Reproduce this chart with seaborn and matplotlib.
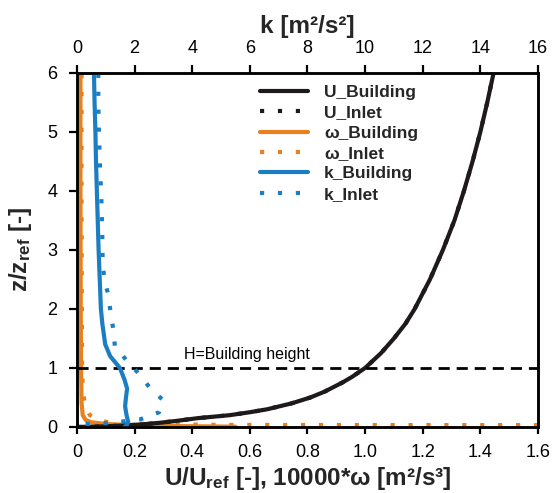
import matplotlib
matplotlib.use("Agg")
import matplotlib.pyplot as plt
import seaborn as sns
import pandas as pd

# ---- data ----
z_U = [0, 0.01, 0.02, 0.03, 0.05, 0.07, 0.1, 0.15, 0.2, 0.25, 0.3, 0.4, 0.5, 0.6, 0.75, 0.85, 1.0,
       1.25, 1.5, 1.75, 2.0, 2.5, 3.0, 3.5, 4.0, 4.5, 5.0, 5.5, 6.0]
U_building = [0, 0.09, 0.14, 0.18, 0.24, 0.285, 0.34, 0.42, 0.53, 0.60, 0.66, 0.745, 0.81, 0.86, 0.92, 0.955, 1.0,
              1.055, 1.10, 1.14, 1.172, 1.225, 1.27, 1.31, 1.343, 1.373, 1.40, 1.424, 1.446]
U_inlet = [0, 0.09, 0.14, 0.18, 0.24, 0.285, 0.34, 0.42, 0.53, 0.60, 0.66, 0.745, 0.81, 0.86, 0.92, 0.955, 1.0,
           1.055, 1.10, 1.14, 1.172, 1.225, 1.27, 1.31, 1.343, 1.373, 1.40, 1.424, 1.446]

z_wb = [0.005, 0.015, 0.03, 0.05, 0.08, 0.12, 0.2, 0.4, 1.0, 2.0, 4.0, 6.0]
w_building = [0.55, 0.35, 0.2, 0.1, 0.05, 0.03, 0.02, 0.016, 0.014, 0.013, 0.012, 0.012]

z_wi = [0.03, 0.035, 0.06, 0.1, 0.2, 0.34, 0.66, 1.0, 2.0, 4.0, 6.0]
w_inlet = [2.0, 0.5, 0.15, 0.08, 0.045, 0.028, 0.02, 0.018, 0.017, 0.016, 0.016]

z_kb = [0.0, 0.03, 0.08, 0.2, 0.35, 0.5, 0.65, 0.8, 1.0, 1.1, 1.2, 1.4, 1.75, 2.0, 2.5, 3.0, 3.5, 4.0, 4.5, 5.0, 5.5, 6.0]
k_building = [1.65, 1.72, 1.78, 1.72, 1.67, 1.70, 1.74, 1.65, 1.49, 1.32, 1.15, 0.98, 0.88, 0.83, 0.79, 0.75, 0.72, 0.69, 0.66, 0.64, 0.61, 0.59]

z_ki = [0.05, 0.07, 0.13, 0.25, 0.45, 0.65, 0.9, 1.12, 1.35, 1.65, 2.0, 2.25, 2.5, 2.8, 3.2, 3.8, 4.4, 5.0, 5.5, 6.0]
k_inlet = [0.3, 1.2, 2.2, 2.85, 3.0, 2.55, 2.15, 1.74, 1.32, 1.26, 1.15, 1.08, 0.95, 0.89, 0.88, 0.85, 0.80, 0.76, 0.74, 0.74]

x_ticks = [0, 0.2, 0.4, 0.6, 0.8, 1.0, 1.2, 1.4, 1.6]
x_ticklabels = ["0", "0.2", "0.4", "0.6", "0.8", "1.0", "1.2", "1.4", "1.6"]
k_ticks = [0, 2, 4, 6, 8, 10, 12, 14, 16]
y_ticks = [0, 1, 2, 3, 4, 5, 6]

# ---- style ----
sns.set_theme(style="white")
plt.rcParams["font.family"] = ["Liberation Sans", "DejaVu Sans"]
plt.rcParams["mathtext.fontset"] = "custom"
plt.rcParams["mathtext.bf"] = "Liberation Sans:bold"
plt.rcParams["mathtext.rm"] = "Liberation Sans"
plt.rcParams["mathtext.default"] = "bf"

BLACK = "#1e1a1a"
ORANGE = "#E8801E"
BLUE = "#1B7DC2"
LW = 3.0
DOT = (0, (1, 3.3))

fig = plt.figure(figsize=(5.55, 4.93), dpi=100)
ax = fig.add_axes([0.1387, 0.1339, 0.8307, 0.7186])
ax2 = ax.twiny()

def line(axis, x, y, color, ls, label, z=2):
    df = pd.DataFrame({"x": x, "y": y})
    sns.lineplot(data=df, x="x", y="y", sort=False, estimator=None, ax=axis,
                 color=color, linewidth=LW, linestyle=ls, label=label,
                 legend=False, zorder=z)
    ln = axis.get_lines()[-1]
    if ls != "-":
        ln.set_dash_capstyle("butt")
    return ln

h = []
h.append(line(ax, U_building, z_U, BLACK, "-", "U_Building", 3))
h.append(line(ax, U_inlet, z_U, BLACK, DOT, "U_Inlet", 3))
h.append(line(ax, w_building, z_wb, ORANGE, "-", "ω_Building", 2))
h.append(line(ax, w_inlet, z_wi, ORANGE, DOT, "ω_Inlet", 2))
h.append(line(ax2, k_building, z_kb, BLUE, "-", "k_Building", 2))
h.append(line(ax2, k_inlet, z_ki, BLUE, DOT, "k_Inlet", 2))

ax.axhline(1.0, color="black", lw=2.0, ls=(0, (4, 2.5)), zorder=4)
ax.text(0.59, 1.1, "H=Building height", ha="center", va="bottom", fontsize=11.5, color="black")

ax.set_xlim(0, 1.6)
ax.set_ylim(0, 6)
ax2.set_xlim(0, 16)
ax2.set_ylim(0, 6)
ax.set_xticks(x_ticks)
ax.set_xticklabels(x_ticklabels)
ax.set_yticks(y_ticks)
ax2.set_xticks(k_ticks)

for a in (ax, ax2):
    for s in a.spines.values():
        s.set_color("black")
        s.set_linewidth(1.8)
        s.set_visible(True)
ax.tick_params(axis="x", which="major", direction="out", length=5, width=1.6,
               labelsize=13, color="black", labelcolor="black", pad=7, bottom=True)
ax.tick_params(axis="y", which="major", direction="out", length=6, width=1.6,
               labelsize=13, color="black", labelcolor="black", pad=8, left=True)
ax2.tick_params(axis="x", direction="out", length=6, width=1.6, labelsize=13,
                color="black", labelcolor="black", top=True, pad=5)

ax.set_xlabel(r"U/U$_{ref}$ [-], 10000*ω [m²/s³]", fontsize=17.5, fontweight="bold", labelpad=3)
ax.set_ylabel(r"z/z$_{ref}$ [-]", fontsize=17.5, fontweight="bold", labelpad=10)
ax2.set_xlabel("k [m²/s²]", fontsize=17.5, fontweight="bold", labelpad=5)
ax.grid(False)
ax2.grid(False)

leg = ax2.legend(handles=h, labels=[l.get_label() for l in h], loc="upper left",
                 bbox_to_anchor=(0.37, 1.0), frameon=False,
                 handlelength=2.8, handletextpad=0.9, labelspacing=0.3,
                 borderaxespad=0.3, prop={"weight": "bold", "size": 12.5})

fig.savefig("out.png", dpi=100)
